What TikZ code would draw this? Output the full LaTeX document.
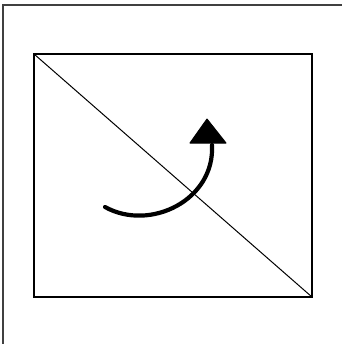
\documentclass[tikz,border=0pt]{standalone}
\begin{document}
\begin{tikzpicture}[x=1bp,y=-1bp,
  frame/.style={draw=black!75,line width=2bp},
  box/.style={draw=black,line width=1.6bp},
  diag/.style={draw=black,line width=1bp},
  turn/.style={draw=black,line width=4.2bp,line cap=round},
  head/.style={fill=black,draw=black,line width=1bp,line join=round}]
\useasboundingbox (0,0) rectangle (342,344);
\coordinate (tl) at (34,54);
\coordinate (br) at (312,297);
\coordinate (s) at (105,207);
\coordinate (e) at (212,145);
\draw[frame] (3,350) -- (3,4.5) -- (350,4.5);
\draw[box] (tl) rectangle (br);
\draw[diag] (tl) -- (br);
\draw[turn] (s) .. controls (150,232) and (215,200) .. (e);
\fill[head] (207,119) -- (226,143) -- (190,143) -- cycle;
\end{tikzpicture}
\end{document}
